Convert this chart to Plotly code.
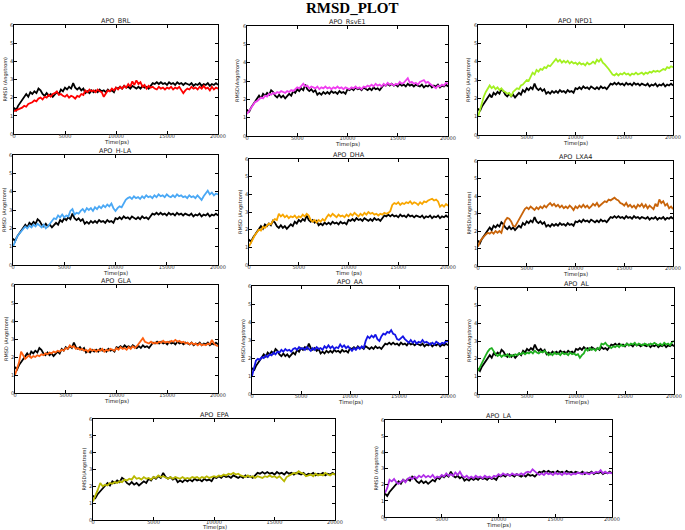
import plotly.graph_objects as go

TIME_PS = list(range(0, 20001, 200))

APO = [1.45, 1.30, 1.55, 1.70, 1.85, 2.05, 2.20, 2.05, 2.30, 2.20,
       2.35, 2.25, 2.50, 2.40, 2.20, 2.10, 2.25, 2.10, 2.20, 2.05,
       2.15, 2.30, 2.20, 2.45, 2.35, 2.55, 2.45, 2.60, 2.50, 2.80,
       2.55, 2.45, 2.55, 2.40, 2.50, 2.25, 2.35, 2.25, 2.40, 2.30,
       2.40, 2.30, 2.45, 2.35, 2.40, 2.30, 2.45, 2.35, 2.40, 2.30,
       2.55, 2.50, 2.60, 2.50, 2.65, 2.55, 2.60, 2.50, 2.65, 2.55,
       2.50, 2.60, 2.50, 2.65, 2.55, 2.60, 2.50, 2.65, 2.80, 2.75,
       2.85, 2.75, 2.85, 2.75, 2.80, 2.70, 2.85, 2.75, 2.80, 2.70,
       2.85, 2.75, 2.80, 2.70, 2.80, 2.75, 2.70, 2.80, 2.65, 2.75,
       2.70, 2.80, 2.65, 2.75, 2.70, 2.80, 2.65, 2.75, 2.70, 2.80, 2.70]

BRL = [1.25, 1.30, 1.35, 1.40, 1.45, 1.55, 1.50, 1.65, 1.70, 1.75,
       1.85, 1.80, 1.95, 2.00, 1.90, 2.05, 2.00, 2.15, 2.05, 2.20,
       2.25, 2.35, 2.15, 2.20, 2.10, 2.05, 2.15, 2.00, 2.10, 2.05,
       1.95, 2.10, 2.05, 2.20, 2.15, 2.40, 2.30, 2.45, 2.35, 2.40,
       2.30, 2.45, 2.35, 2.30, 2.05, 2.25, 2.40, 2.35, 2.50, 2.40,
       2.55, 2.45, 2.60, 2.50, 2.65, 2.55, 2.75, 2.60, 2.90, 2.70,
       2.95, 2.75, 2.85, 2.60, 2.70, 2.50, 2.65, 2.55, 2.60, 2.50,
       2.45, 2.60, 2.50, 2.55, 2.45, 2.55, 2.50, 2.60, 2.45, 2.55,
       2.50, 2.60, 2.45, 2.25, 2.40, 2.50, 2.45, 2.60, 2.50, 2.55,
       2.45, 2.60, 2.50, 2.65, 2.50, 2.55, 2.40, 2.60, 2.45, 2.55, 2.50]

RSVE1 = [1.20, 1.35, 1.55, 1.70, 1.85, 1.90, 2.00, 2.10, 2.05, 2.20,
         2.15, 2.30, 2.25, 2.35, 2.30, 2.40, 2.35, 2.45, 2.40, 2.35,
         2.45, 2.40, 2.50, 2.45, 2.55, 2.65, 2.60, 2.70, 2.85, 2.70,
         2.75, 2.60, 2.70, 2.65, 2.60, 2.70, 2.55, 2.65, 2.60, 2.70,
         2.60, 2.65, 2.55, 2.65, 2.60, 2.70, 2.60, 2.65, 2.55, 2.65,
         2.60, 2.55, 2.65, 2.60, 2.70, 2.60, 2.65, 2.55, 2.70, 2.65,
         2.75, 2.70, 2.80, 2.70, 2.85, 2.75, 2.80, 2.70, 2.85, 2.75,
         2.90, 2.80, 2.85, 2.75, 2.85, 2.80, 2.95, 2.85, 2.90, 3.05,
         3.15, 2.90, 2.95, 2.85, 2.90, 2.80, 2.95, 3.00, 3.05, 2.90,
         2.95, 2.85, 2.75, 2.70, 2.60, 2.75, 2.70, 2.80, 2.75, 2.90, 2.85]

NPD1 = [1.00, 1.40, 1.80, 2.10, 2.35, 2.55, 2.70, 2.55, 2.65, 2.50,
        2.60, 2.45, 2.55, 2.40, 2.35, 2.25, 2.30, 2.10, 2.35, 2.45,
        2.55, 2.50, 2.70, 2.75, 2.90, 3.00, 2.95, 3.20, 3.40, 3.30,
        3.55, 3.45, 3.60, 3.55, 3.70, 3.65, 3.80, 3.75, 3.90, 4.05,
        4.15, 4.00, 4.10, 3.95, 4.05, 3.95, 4.05, 3.90, 4.00, 3.90,
        3.95, 3.85, 3.95, 3.85, 3.90, 3.80, 3.95, 3.85, 3.90, 4.00,
        3.90, 4.10, 4.00, 4.15, 3.95, 3.85, 3.75, 3.60, 3.45, 3.30,
        3.25, 3.35, 3.25, 3.35, 3.30, 3.40, 3.30, 3.35, 3.25, 3.35,
        3.30, 3.40, 3.30, 3.35, 3.40, 3.30, 3.40, 3.35, 3.45, 3.40,
        3.50, 3.45, 3.50, 3.45, 3.55, 3.60, 3.55, 3.70, 3.65, 3.75, 3.70]

HLA = [1.00, 1.30, 1.55, 1.70, 1.85, 1.95, 2.10, 2.00, 2.15, 2.05,
       2.20, 2.10, 2.25, 2.15, 2.05, 2.20, 2.00, 2.10, 2.25, 2.40,
       2.55, 2.50, 2.70, 2.60, 2.75, 2.60, 2.70, 2.65, 2.95, 3.05,
       2.75, 2.85, 2.80, 2.95, 3.05, 2.90, 3.10, 3.00, 3.10, 2.95,
       3.15, 3.05, 3.20, 3.10, 3.25, 3.15, 3.30, 3.20, 3.35, 3.10,
       2.95, 3.10, 3.20, 3.15, 3.40, 3.55, 3.65, 3.70, 3.60, 3.75,
       3.65, 3.70, 3.60, 3.75, 3.65, 3.80, 3.70, 3.75, 3.65, 3.80,
       3.70, 3.85, 3.75, 3.80, 3.70, 3.85, 3.75, 3.70, 3.80, 3.70,
       3.85, 3.75, 3.80, 3.70, 3.75, 3.65, 3.80, 3.70, 3.75, 3.65,
       3.80, 3.70, 3.55, 3.75, 3.90, 4.05, 3.85, 3.95, 3.80, 3.90, 3.85]

DHA = [1.05, 1.30, 1.50, 1.70, 1.85, 2.00, 1.95, 2.15, 2.10, 2.25,
       2.35, 2.30, 2.50, 2.60, 2.55, 2.90, 2.75, 2.85, 2.70, 2.80,
       2.65, 2.75, 2.70, 2.80, 2.65, 2.75, 2.70, 2.85, 2.75, 2.90,
       2.80, 2.55, 2.45, 2.55, 2.40, 2.55, 2.45, 2.60, 2.50, 2.70,
       2.85, 2.75, 2.90, 2.80, 2.70, 2.85, 2.75, 2.80, 2.70, 2.85,
       2.75, 2.90, 2.80, 2.95, 2.85, 2.75, 2.90, 2.80, 2.95, 2.85,
       3.00, 2.90, 2.95, 2.85, 2.90, 2.80, 2.90, 2.85, 2.95, 2.90,
       2.95, 3.05, 3.40, 3.50, 3.45, 3.55, 3.40, 3.50, 3.45, 3.55,
       3.50, 3.60, 3.45, 3.55, 3.50, 3.40, 3.55, 3.45, 3.60, 3.55,
       3.65, 3.70, 3.75, 3.65, 3.70, 3.60, 3.30, 3.40, 3.30, 3.45, 3.35]

LXA4 = [1.10, 1.40, 1.55, 1.70, 1.80, 1.90, 1.85, 1.95, 1.85, 2.00,
        1.90, 2.00, 1.90, 2.30, 2.60, 2.75, 2.70, 2.55, 2.30, 2.25,
        2.45, 2.60, 2.80, 3.05, 3.25, 3.35, 3.25, 3.40, 3.30, 3.20,
        3.35, 3.25, 3.40, 3.30, 3.45, 3.35, 3.50, 3.60, 3.45, 3.55,
        3.40, 3.50, 3.35, 3.45, 3.30, 3.40, 3.30, 3.45, 3.35, 3.20,
        3.40, 3.30, 3.45, 3.35, 3.50, 3.35, 3.45, 3.30, 3.40, 3.55,
        3.45, 3.60, 3.40, 3.50, 3.60, 3.70, 3.65, 3.80, 3.75, 3.85,
        3.90, 3.80, 3.75, 3.60, 3.55, 3.45, 3.60, 3.40, 3.50, 3.35,
        3.45, 3.30, 3.50, 3.40, 3.55, 3.35, 3.50, 3.30, 3.45, 3.35,
        3.25, 3.55, 3.40, 3.80, 3.60, 3.70, 3.45, 3.55, 3.30, 3.40, 3.25]

GLA = [1.00, 1.40, 1.70, 2.30, 2.05, 1.90, 2.00, 2.10, 1.95, 2.05,
       2.00, 2.10, 2.05, 2.15, 2.10, 2.20, 2.15, 2.25, 2.20, 2.30,
       2.25, 2.35, 2.30, 2.40, 2.35, 2.50, 2.45, 2.65, 2.55, 2.60,
       2.45, 2.50, 2.40, 2.45, 2.35, 2.40, 2.30, 2.45, 2.35, 2.40,
       2.30, 2.40, 2.35, 2.45, 2.30, 2.40, 2.35, 2.45, 2.40, 2.35,
       2.50, 2.40, 2.55, 2.45, 2.50, 2.40, 2.55, 2.45, 2.60, 2.50,
       2.60, 2.75, 2.95, 3.05, 2.85, 2.80, 2.75, 2.85, 2.75, 2.80,
       2.75, 2.85, 2.80, 2.90, 2.80, 2.85, 2.80, 2.90, 2.85, 2.95,
       2.85, 2.90, 2.80, 2.85, 2.75, 2.80, 2.70, 2.80, 2.70, 2.75,
       2.65, 2.75, 2.65, 2.70, 2.65, 2.75, 2.70, 2.95, 2.75, 2.65, 2.60]

AA = [1.00, 1.50, 1.85, 1.95, 1.90, 2.05, 2.00, 2.15, 2.05, 2.20,
      2.15, 2.30, 2.20, 2.35, 2.30, 2.45, 2.35, 2.50, 2.40, 2.45,
      2.35, 2.50, 2.55, 2.45, 2.60, 2.50, 2.55, 2.45, 2.60, 2.50,
      2.40, 2.55, 2.45, 2.60, 2.50, 2.55, 2.45, 2.65, 2.55, 2.70,
      2.55, 2.65, 2.50, 2.60, 2.55, 2.75, 2.60, 2.70, 2.55, 2.65,
      2.50, 2.40, 2.55, 2.45, 2.60, 2.50, 2.65, 2.55, 2.95, 3.20,
      3.10, 3.25, 3.15, 3.30, 3.05, 2.95, 3.20, 3.35, 3.30, 3.45,
      3.40, 3.55, 3.35, 3.30, 3.05, 3.00, 3.10, 3.20, 3.05, 2.95,
      2.85, 3.00, 2.85, 2.95, 2.80, 2.90, 2.85, 3.00, 2.85, 2.90,
      2.80, 2.75, 2.85, 2.75, 2.90, 2.80, 2.75, 2.85, 2.80, 2.95, 2.90]

AL = [1.30, 1.55, 1.80, 2.05, 2.20, 2.40, 2.55, 2.60, 2.40, 2.25,
      2.15, 2.25, 2.10, 2.20, 2.15, 2.25, 2.10, 2.20, 2.15, 2.25,
      2.20, 2.30, 2.25, 2.35, 2.25, 2.35, 2.30, 2.40, 2.30, 2.45,
      2.35, 2.30, 2.40, 2.35, 2.45, 2.30, 2.20, 2.30, 2.20, 2.35,
      2.25, 2.30, 2.20, 2.35, 2.25, 2.30, 2.20, 2.35, 2.25, 2.30,
      2.20, 2.25, 2.05, 2.20, 2.30, 2.55, 2.45, 2.60, 2.50, 2.55,
      2.45, 2.60, 2.55, 2.85, 2.80, 2.90, 2.75, 2.70, 2.60, 2.70,
      2.65, 2.75, 2.65, 2.80, 2.70, 2.75, 2.85, 2.75, 2.85, 2.80,
      2.90, 2.75, 2.85, 2.80, 2.75, 2.85, 2.80, 2.75, 2.85, 2.80,
      2.90, 2.80, 2.75, 2.85, 2.75, 2.90, 2.80, 2.85, 2.75, 2.95, 3.00]

EPA = [1.10, 1.40, 1.80, 2.20, 2.00, 2.10, 2.05, 2.20, 2.15, 2.25,
       2.20, 2.30, 2.25, 2.40, 2.35, 2.45, 2.40, 2.60, 2.45, 2.50,
       2.40, 2.55, 2.45, 2.50, 2.40, 2.55, 2.50, 2.65, 2.55, 2.60,
       2.50, 2.45, 2.55, 2.45, 2.55, 2.50, 2.45, 2.55, 2.45, 2.50,
       2.45, 2.55, 2.50, 2.55, 2.45, 2.55, 2.50, 2.60, 2.50, 2.55,
       2.60, 2.55, 2.65, 2.60, 2.70, 2.65, 2.75, 2.70, 2.80, 2.70,
       2.75, 2.65, 2.60, 2.55, 2.65, 2.55, 2.60, 2.50, 2.60, 2.55,
       2.50, 2.60, 2.55, 2.65, 2.55, 2.60, 2.50, 2.60, 2.45, 2.30,
       2.55, 2.65, 2.70, 2.80, 2.75, 2.90, 2.80, 2.75, 2.60, 2.65,
       2.70, 2.60, 2.75, 2.65, 2.70, 2.65, 2.80, 2.70, 2.65, 2.75, 2.70]

LA = [1.50, 1.80, 2.30, 2.20, 2.35, 2.15, 2.05, 2.20, 2.30, 2.15,
      2.35, 2.45, 2.35, 2.50, 2.40, 2.55, 2.45, 2.60, 2.45, 2.55,
      2.45, 2.60, 2.40, 2.50, 2.45, 2.60, 2.50, 2.70, 2.55, 2.65,
      2.55, 2.75, 2.60, 2.80, 2.55, 2.45, 2.55, 2.40, 2.50, 2.40,
      2.55, 2.45, 2.50, 2.40, 2.55, 2.45, 2.50, 2.40, 2.55, 2.50,
      2.65, 2.55, 2.70, 2.60, 2.65, 2.55, 2.70, 2.60, 2.65, 2.60,
      2.70, 2.60, 2.75, 2.80, 2.75, 2.95, 2.80, 2.70, 2.60, 2.70,
      2.60, 2.75, 2.65, 2.70, 2.60, 2.75, 2.65, 2.70, 2.60, 2.75,
      2.65, 2.70, 2.60, 2.70, 2.65, 2.75, 2.70, 2.65, 2.75, 2.70,
      2.65, 2.75, 2.70, 2.80, 2.75, 2.90, 2.70, 2.80, 2.70, 2.75, 2.70]

PANEL_TITLES = ["APO_BRL", "APO_RsvE1", "APO_NPD1", "APO_H-LA", "APO_DHA", "APO_LXA4",
                "APO_GLA", "APO_AA", "APO_AL", "APO_EPA", "APO_LA"]
LIGAND_SERIES = [BRL, RSVE1, NPD1, HLA, DHA, LXA4, GLA, AA, AL, EPA, LA]
LIGAND_COLORS = ["#ff0000", "#f040f0", "#a2f020", "#4aa8f5", "#f8a600", "#c8640a",
                 "#ff6010", "#1414e6", "#1fb01f", "#b8b800", "#b030e8"]
X_TITLES = ["Time(ps)", "Time(ps)", "Time(ps)", "Time(ps)", "Time (ps)", "Time(ps)",
            "Time(ps)", "Time(ps)", "Time(ps)", "Time(ps)", "Time(ps)"]
Y_TITLES = ["RMSD (Angstrom)", "RMSD(Angstrom)", "RMSD (Angstrom)", "RMSD (Angstrom)",
            "RMSD (Angstrom)", "RMSD(Angstrom)", "RMSD (Angstrom)", "RMSD(Angstrom)",
            "RMSD(Angstrom)", "RMSD(Angstrom)", "RMSD (Angstrom)"]
X_TICKS = [0, 5000, 10000, 15000, 20000]
Y_TICKS = [0, 1, 2, 3, 4, 5, 6]

W, H = 685, 530
# panel boxes in pixels: left, right, top, bottom
BOXES = [(14, 218, 25, 134), (247, 448, 26, 136), (478, 673, 25, 135),
         (13, 218, 155, 265), (249, 448, 159, 265), (478, 673, 161, 266),
         (15, 218, 285, 393), (252, 448, 286, 394), (478, 674, 288, 394),
         (93, 335, 419, 520), (385, 612, 420, 517)]
X_TITLE_GAP = [8.5, 8.5, 8.5, 8.5, 8.5, 8.5, 8.5, 8.5, 8.5, 7, 8.5]

FONT = "DejaVu Sans"
fig = go.Figure()
annotations = []
layout = {}
for i, (title, ser, col, xt, yt, box, gap) in enumerate(
        zip(PANEL_TITLES, LIGAND_SERIES, LIGAND_COLORS, X_TITLES, Y_TITLES, BOXES, X_TITLE_GAP)):
    n = i + 1
    xa = "x" if n == 1 else f"x{n}"
    ya = "y" if n == 1 else f"y{n}"
    fig.add_trace(go.Scatter(x=TIME_PS, y=APO, mode="lines", xaxis=xa, yaxis=ya,
                             line=dict(color="black", width=1.8), showlegend=False))
    fig.add_trace(go.Scatter(x=TIME_PS, y=ser, mode="lines", xaxis=xa, yaxis=ya,
                             line=dict(color=col, width=1.8), showlegend=False))
    l, r, t, b = box
    common = dict(showline=True, linecolor="black", linewidth=0.8, mirror="ticks",
                  ticks="inside", ticklen=3, tickwidth=0.6, tickcolor="black",
                  showgrid=False, zeroline=False, automargin=False,
                  tickfont=dict(family=FONT, size=5, color="#333"))
    layout["xaxis" if n == 1 else f"xaxis{n}"] = dict(
        domain=[l / W, r / W], anchor=ya, range=[0, 20000], tickvals=X_TICKS,
        tickformat="d", ticklabelstandoff=-3, **common)
    layout["yaxis" if n == 1 else f"yaxis{n}"] = dict(
        domain=[1 - b / H, 1 - t / H], anchor=xa, range=[0, 6], tickvals=Y_TICKS,
        ticklabelstandoff=-1, **common)
    cx = (l + r) / 2 / W
    annotations.append(dict(text=title, x=cx, y=1 - t / H, xref="paper", yref="paper",
                            xanchor="center", yanchor="bottom", yshift=-1, showarrow=False,
                            borderpad=0, font=dict(family=FONT, size=6.5, color="#222")))
    annotations.append(dict(text=xt, x=cx, y=1 - (b + gap) / H, xref="paper", yref="paper",
                            xanchor="center", yanchor="middle", showarrow=False, borderpad=0,
                            font=dict(family=FONT, size=5.5, color="#222")))
    annotations.append(dict(text=yt, x=(l - 9) / W, y=1 - (t + b) / 2 / H, xref="paper",
                            yref="paper", xanchor="center", yanchor="middle", textangle=-90,
                            showarrow=False, font=dict(family=FONT, size=5, color="#222")))

annotations.append(dict(text="<b>RMSD_PLOT</b>", x=352 / W, y=1 - 8 / H, xref="paper", yref="paper",
                        xanchor="center", yanchor="middle", showarrow=False,
                        font=dict(family="Liberation Serif", size=15, color="black")))

fig.update_layout(width=W, height=H, margin=dict(l=0, r=0, t=0, b=0, autoexpand=False),
                  paper_bgcolor="white", plot_bgcolor="white",
                  annotations=annotations, **layout)
fig.write_html("out.html", config={"displayModeBar": False},
               post_script="document.body.style.margin='0';document.body.style.padding='0';")
